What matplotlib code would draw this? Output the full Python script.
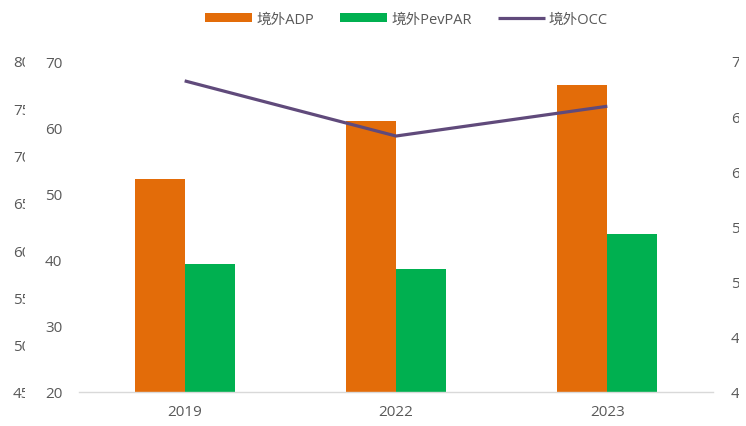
import numpy as np
import matplotlib
matplotlib.use("Agg")
import matplotlib.pyplot as plt
from matplotlib.patches import Rectangle

plt.rcParams['font.family'] = ['Open Sans', 'Noto Sans CJK SC', 'DejaVu Sans']

# data
years = ['2019', '2022', '2023']
adp = [52.1, 61.0, 66.4]        # 境外ADP, left axis
revpar = [39.3, 38.6, 43.9]     # 境外PevPAR, left axis
occ = [68.2, 63.2, 65.9]        # 境外OCC, right axis
left_ticks = [20, 30, 40, 50, 60, 70]
hidden_ticks = [45, 50, 55, 60, 65, 70, 75, 80]
right_ticks = [40, 45, 50, 55, 60, 65, 70]

c_adp = '#E36C09'
c_rev = '#00B050'
c_occ = '#604A7B'
c_txt = '#595959'

fig = plt.figure(figsize=(7.46, 4.27), dpi=100)
rect = [79 / 746, 34 / 427, 634 / 746, 331 / 427]

# the partly covered axis on the far left
ax_h = fig.add_axes(rect)
ax_h.set_zorder(0)
ax_h.set_ylim(hidden_ticks[0], hidden_ticks[-1])
ax_h.set_yticks(hidden_ticks)
ax_h.set_xticks([])
for s in ax_h.spines.values():
    s.set_visible(False)
ax_h.tick_params(axis='y', length=0, pad=35, labelsize=11, labelcolor=c_txt)
ax_h.patch.set_visible(False)

# white strip hiding part of those labels
fig.patches.append(Rectangle((25 / 746, 0), 17 / 746, 1, transform=fig.transFigure,
                             facecolor='white', edgecolor='none', zorder=0.5))

ax = fig.add_axes(rect)
ax.set_zorder(1)
ax.patch.set_visible(False)
x = np.arange(len(years))
w = 0.237
ax.bar(x - w / 2, adp, w, color=c_adp, label='境外ADP')
ax.bar(x + w / 2, revpar, w, color=c_rev, label='境外PevPAR')
ax.set_xlim(-0.5, 2.5)
ax.set_ylim(left_ticks[0], left_ticks[-1])
ax.set_yticks(left_ticks)
ax.set_xticks(x)
ax.set_xticklabels(years)
for s in ['top', 'right', 'left']:
    ax.spines[s].set_visible(False)
ax.spines['bottom'].set_color('#D9D9D9')
ax.spines['bottom'].set_linewidth(1)
ax.tick_params(axis='y', length=0, pad=12, labelsize=11, labelcolor=c_txt)
ax.tick_params(axis='x', length=0, pad=9, labelsize=11, labelcolor=c_txt)

ax2 = ax.twinx()
ax2.set_zorder(2)
ax2.patch.set_visible(False)
ax2.plot(x, occ, color=c_occ, linewidth=2.3, label='境外OCC', solid_capstyle='butt')
ax2.set_ylim(right_ticks[0], right_ticks[-1])
ax2.set_yticks(right_ticks)
for s in ax2.spines.values():
    s.set_visible(False)
ax2.tick_params(axis='y', length=0, pad=13, labelsize=11, labelcolor=c_txt)

# right edge cut off like the reference
fig.patches.append(Rectangle((739 / 746, 0), 7 / 746, 1, transform=fig.transFigure,
                             facecolor='white', edgecolor='none', zorder=10))

h1, l1 = ax.get_legend_handles_labels()
h2, l2 = ax2.get_legend_handles_labels()
fig.legend(h1 + h2, l1 + l2, loc='center', bbox_to_anchor=(0.545, 0.953), ncol=3,
           frameon=False, fontsize=10.5, labelcolor=c_txt, handlelength=3.2,
           handleheight=0.6, handletextpad=0.3, columnspacing=1.8)

fig.savefig('out.png', dpi=100, facecolor='white')
